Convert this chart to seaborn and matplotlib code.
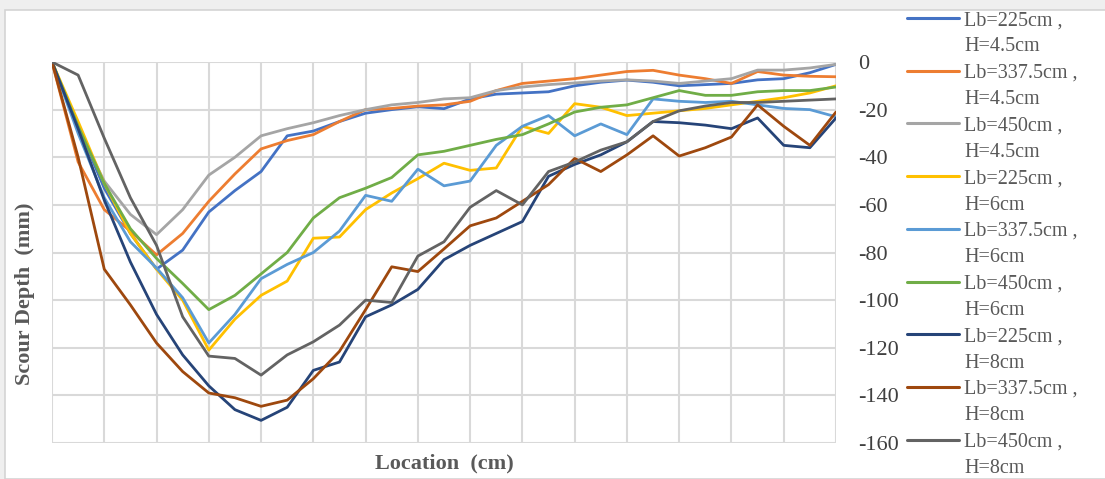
import pandas as pd
import matplotlib.pyplot as plt
import seaborn as sns
from matplotlib.lines import Line2D
from matplotlib.patches import Rectangle

# positions along the flume, in grid steps (the chart shows no x tick labels)
location = [0, 0.5, 1, 1.5, 2, 2.5, 3, 3.5, 4, 4.5, 5, 5.5, 6, 6.5, 7, 7.5,
            8, 8.5, 9, 9.5, 10, 10.5, 11, 11.5, 12, 12.5, 13, 13.5, 14, 14.5, 15]

# scour depth (mm)
lb225_h45 = [0, -27, -53, -72, -87, -79, -63, -54, -46, -31, -29, -25, -21.5, -20, -18.8, -19.6,
             -15.5, -13.5, -13, -12.5, -10, -8.5, -7.6, -8.5, -10, -9.5, -9, -7.5, -7, -4.5, -1]
lb3375_h45 = [0, -42, -62, -71, -81, -72, -58.5, -47, -36.5, -33, -30.5, -25, -20, -19.5, -18.5, -18,
              -16.5, -12, -9, -8, -7, -5.5, -4, -3.5, -5.5, -7, -9, -4, -5.5, -6, -6.2]
lb450_h45 = [0, -28, -50, -64, -72.5, -62, -47.5, -40, -31, -28, -25.5, -22.5, -20, -18, -17, -15.5,
             -15, -12, -10.5, -9.5, -8.8, -8, -7.5, -8, -9, -8, -7, -3.4, -3.4, -2.5, -1]
lb225_h6 = [0, -25, -51, -72, -87, -100, -121, -108, -98, -92, -74, -73.5, -62, -55, -49, -42.5,
            -45.5, -44.5, -27, -30, -17.5, -19, -22.5, -21.5, -20.5, -19.5, -18, -16.5, -15, -13, -10]
lb3375_h6 = [0, -30, -57, -75.5, -86.5, -99, -118, -106, -91, -85, -80, -71, -56, -58.5, -45, -52,
             -50, -35, -27, -22.5, -31, -26, -30.5, -15.5, -16.5, -17, -16.5, -18, -19.5, -20, -23]
lb450_h6 = [0, -27, -51, -70, -82.5, -93, -104, -98, -89, -80, -65.5, -57, -53, -48.5, -39, -37.5,
            -35, -32.5, -30.5, -26, -21, -19, -18, -15, -12, -14, -14, -12.5, -12, -12, -10.5]
lb225_h8 = [0, -28, -58, -84, -106, -123, -136, -146, -150.5, -145, -129.5, -126, -107, -102, -95.5, -83,
            -77, -72, -67, -48, -43, -39, -33.5, -25, -25.5, -26.5, -28, -23.5, -35, -36, -23.5]
lb3375_h8 = [0, -40, -87, -102, -118, -130, -139, -141, -144.6, -142, -133, -121.5, -104, -86, -88, -78.5,
             -68.8, -65.5, -58.5, -51.5, -40.5, -46, -39, -31, -39.5, -36, -31.5, -18, -27, -35, -21]
lb450_h8 = [0, -5.5, -32, -57, -77, -107, -123.5, -124.5, -131.5, -123, -117.5, -110.5, -100, -101, -81.5, -75.5,
            -61, -54, -60, -46, -42, -37, -33.5, -25, -20.5, -18.5, -17, -17, -16.5, -16, -15.5]

series_values = [lb225_h45, lb3375_h45, lb450_h45, lb225_h6, lb3375_h6, lb450_h6,
                 lb225_h8, lb3375_h8, lb450_h8]
label_top = ["Lb=225cm ,", "Lb=337.5cm ,", "Lb=450cm ,"] * 3
label_bottom = ["H=4.5cm"] * 3 + ["H=6cm"] * 3 + ["H=8cm"] * 3
series_names = [a + " " + b for a, b in zip(label_top, label_bottom)]
colors = ["#4472C4", "#ED7D31", "#A5A5A5", "#FFC000", "#5B9BD5", "#70AD47",
          "#264478", "#9E480E", "#636363"]
y_ticks = [0, -20, -40, -60, -80, -100, -120, -140, -160]

rows = []
for name, vals in zip(series_names, series_values):
    for x, y in zip(location, vals):
        rows.append({"location": x, "depth": y, "series": name})
df = pd.DataFrame(rows)

sns.set_theme(style="white")
plt.rcParams['font.family'] = ['Liberation Serif', 'DejaVu Serif']

W, H = 1105, 479
fig = plt.figure(figsize=(W / 100, H / 100), dpi=100, facecolor="#efefef")
fig.add_artist(Rectangle((5 / W, 0), 1, 1 - 10 / H, transform=fig.transFigure,
                         facecolor="white", edgecolor="#d4d4d4", lw=1.2, zorder=-5))
ax = fig.add_axes([52 / W, 1 - 443 / H, (836 - 52) / W, (443 - 62) / H])

sns.lineplot(data=df, x="location", y="depth", hue="series", hue_order=series_names,
             palette=dict(zip(series_names, colors)), estimator=None, sort=False,
             lw=2, legend=False, ax=ax)
for ln in ax.get_lines():
    ln.set_solid_joinstyle("round")
    ln.set_solid_capstyle("round")

ax.set_xlim(0, 15)
ax.set_ylim(-160, 0)
ax.set_xticks(range(16))
ax.set_xticklabels([])
ax.set_yticks(y_ticks)
ax.set_yticklabels([str(t) for t in y_ticks])
ax.yaxis.tick_right()
ax.tick_params(axis="both", length=0)
ax.tick_params(axis="y", pad=16, labelsize=16, labelcolor="#404040")
ax.grid(True, color="#d9d9d9", lw=1.5)
ax.set_axisbelow(True)
ax.set_xlabel("")
ax.set_ylabel("")
for s in ax.spines.values():
    s.set_visible(False)

fig.text(444 / W, 1 - 463 / H, "Location  (cm)", ha="center", va="center",
         fontsize=16, fontweight="bold", color="#595959")
fig.text(25 / W, 1 - 294 / H, "Scour Depth  (mm)", ha="center", va="center",
         rotation=90, fontsize=16, fontweight="bold", color="#595959")

# two-line legend entries, line handle next to the first line
handles, labels = [], []
for c, top, bottom in zip(colors, label_top, label_bottom):
    handles.append(Line2D([], [], color=c, lw=2.2))
    labels.append(top)
    handles.append(Line2D([], [], color="none"))
    labels.append(bottom)
fig.legend(handles, labels, loc="upper left", bbox_to_anchor=(907 / W, 1 - 11 / H),
           frameon=False, fontsize=14.5, handlelength=2.6, handletextpad=0.25,
           labelspacing=0.36, borderpad=0, borderaxespad=0, labelcolor="#595959")

fig.savefig("out.png", dpi=100, facecolor=fig.get_facecolor())
